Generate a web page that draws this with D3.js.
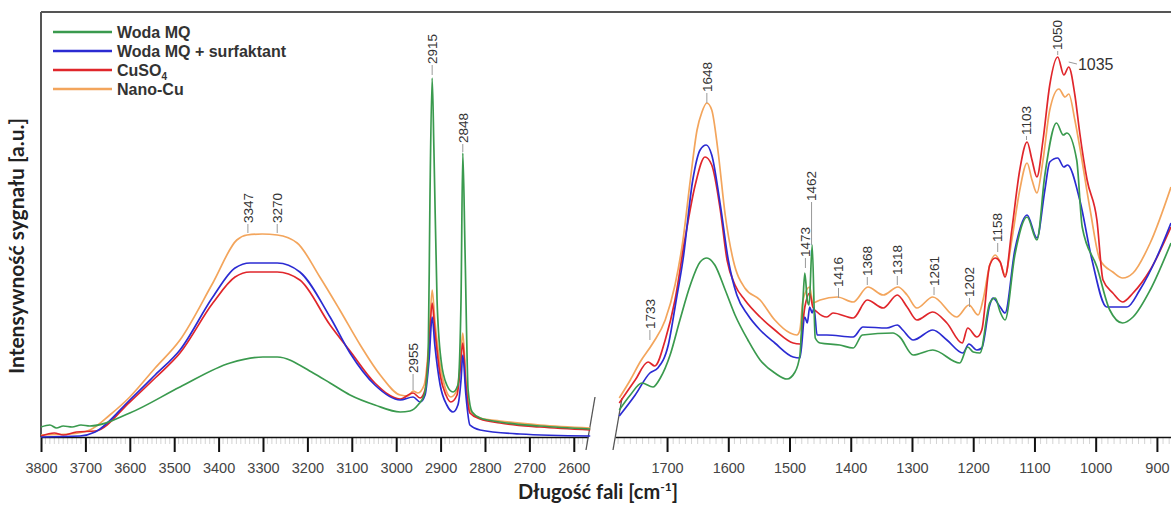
<!DOCTYPE html>
<html><head><meta charset="utf-8">
<script src="https://cdn.jsdelivr.net/npm/d3@7"></script>
<style>body{margin:0;background:#fff}svg{display:block}</style>
</head><body>
<svg id="c" width="1171" height="505"></svg>
<script>
// ---------------- DATA ----------------
const seriesNames = ["Woda MQ", "Woda MQ + surfaktant", "CuSO4", "Nano-Cu"];
const seriesColors = ["#3a9a4e", "#2b2bd2", "#e0262b", "#f3a55c"];

const leftTickValues = [3800, 3700, 3600, 3500, 3400, 3300, 3200, 3100, 3000, 2900, 2800, 2700, 2600];
const rightTickValues = [1700, 1600, 1500, 1400, 1300, 1200, 1100, 1000, 900];

// [wavenumber, intensity a.u.]  high-wavenumber region
const greenHigh = [[3800,1.0],[3780,1.2],[3765,0.9],[3750,1.1],[3730,1.0],[3710,1.2],[3690,1.1],[3600,2.4],[3487,5.0],[3374,7.4],[3300,8.0],[3268,8.0],[3187,6.4],[3149,5.4],[3104,4.2],[3048,3.2],[2991,2.5],[2969,2.6],[2951,3.2],[2937,4.2],[2928,7.7],[2924,23.7],[2919,35.9],[2915,28.7],[2908,13.7],[2899,7.7],[2886,5.2],[2872,4.5],[2861,5.2],[2854,13.7],[2850,28.4],[2845,18.7],[2838,4.7],[2829,2.5],[2811,1.9],[2766,1.5],[2676,1.1],[2563,0.8]];
const blueHigh = [[3800,0.0],[3712,0.1],[3678,0.5],[3600,3.7],[3543,6.2],[3487,8.7],[3413,14.0],[3363,16.9],[3329,17.4],[3268,17.4],[3217,16.5],[3149,12.0],[3104,8.4],[3048,5.2],[2991,3.7],[2962,4.0],[2946,3.5],[2935,4.2],[2926,7.7],[2919,12.0],[2913,9.2],[2901,5.2],[2886,3.2],[2872,2.5],[2861,3.2],[2854,5.7],[2850,8.2],[2843,4.2],[2834,1.2],[2811,0.7],[2721,0.3],[2563,0.1]];
const redHigh = [[3800,0.1],[3770,0.4],[3750,0.2],[3720,0.5],[3678,0.6],[3600,3.5],[3543,5.9],[3487,8.4],[3413,13.4],[3363,16.0],[3329,16.5],[3268,16.5],[3217,15.7],[3149,11.2],[3104,8.6],[3048,5.4],[2991,3.8],[2962,4.4],[2946,3.9],[2935,4.7],[2926,9.2],[2919,13.4],[2913,10.7],[2901,6.2],[2888,4.2],[2877,3.5],[2863,4.2],[2856,6.7],[2850,9.4],[2843,5.2],[2834,2.4],[2811,1.8],[2766,1.4],[2676,1.0],[2563,0.7]];
const orangeHigh = [[3800,0.2],[3735,0.3],[3690,0.7],[3645,2.2],[3600,4.0],[3543,6.9],[3487,9.7],[3413,15.4],[3359,19.7],[3336,20.2],[3302,20.3],[3268,20.2],[3223,19.4],[3172,16.0],[3127,12.7],[3081,9.2],[3036,6.2],[2991,4.2],[2973,4.1],[2962,4.6],[2951,4.4],[2937,5.2],[2926,9.7],[2919,14.7],[2913,11.7],[2901,7.2],[2888,4.7],[2877,4.0],[2863,4.7],[2856,7.2],[2850,10.4],[2843,5.7],[2834,2.7],[2811,1.9],[2766,1.6],[2676,1.2],[2563,0.9]];

// fingerprint region
const greenLow = [[1778,2.7],[1760,4.2],[1741,5.4],[1723,5.0],[1711,5.9],[1695,8.2],[1679,11.7],[1662,15.2],[1646,17.5],[1635,17.9],[1622,17.2],[1605,14.7],[1589,12.2],[1568,9.7],[1548,7.7],[1524,6.4],[1504,5.8],[1491,6.5],[1483,8.2],[1478,13.7],[1475,16.4],[1471,13.7],[1468,13.2],[1463,19.2],[1458,9.9],[1450,9.4],[1418,9.2],[1396,8.9],[1381,10.2],[1331,10.4],[1320,10.0],[1298,8.2],[1266,8.7],[1222,7.4],[1209,9.0],[1200,8.5],[1189,8.4],[1173,13.4],[1164,13.9],[1156,12.5],[1148,11.7],[1132,18.2],[1112,22.0],[1096,19.7],[1083,26.2],[1064,31.4],[1053,30.2],[1047,30.4],[1031,27.7],[1022,21.0],[998,17.0],[977,12.7],[956,11.4],[939,12.0],[911,14.7],[877,19.4]];
const blueLow = [[1778,2.1],[1752,4.2],[1728,6.4],[1715,6.9],[1698,9.2],[1685,13.7],[1674,17.7],[1658,25.7],[1646,28.7],[1636,29.2],[1627,28.2],[1613,23.2],[1600,17.7],[1586,14.2],[1568,12.2],[1548,10.7],[1524,9.4],[1494,8.0],[1483,7.9],[1475,12.0],[1471,11.4],[1467,13.0],[1463,12.4],[1460,12.9],[1455,10.2],[1439,10.2],[1396,10.0],[1380,11.0],[1341,10.9],[1324,11.2],[1315,10.7],[1298,9.7],[1266,10.7],[1243,9.7],[1217,8.4],[1207,9.3],[1194,8.7],[1186,8.9],[1173,13.2],[1168,13.9],[1156,13.0],[1148,12.4],[1132,18.7],[1112,22.2],[1096,19.9],[1083,24.7],[1075,27.5],[1062,27.9],[1052,27.0],[1046,27.2],[1026,23.7],[1006,17.7],[982,13.0],[961,13.0],[949,13.0],[928,14.7],[900,18.0],[877,21.4]];
const redLow = [[1778,3.4],[1752,5.7],[1731,7.5],[1720,7.1],[1703,9.7],[1687,13.7],[1671,19.7],[1654,25.2],[1638,28.0],[1627,27.2],[1613,22.7],[1602,17.7],[1589,15.2],[1573,13.7],[1548,12.0],[1524,10.7],[1494,9.4],[1483,9.3],[1475,13.0],[1467,14.4],[1462,13.0],[1455,12.5],[1439,12.0],[1429,12.4],[1396,11.9],[1373,13.7],[1347,12.9],[1324,14.2],[1308,13.0],[1292,11.7],[1266,12.5],[1243,11.4],[1218,9.4],[1209,10.9],[1194,10.0],[1186,10.7],[1173,17.2],[1164,17.9],[1156,17.5],[1148,16.0],[1137,20.7],[1124,26.7],[1112,29.5],[1104,27.7],[1096,26.0],[1086,29.7],[1075,35.2],[1062,38.0],[1052,36.2],[1044,37.0],[1034,34.2],[1026,30.4],[1014,25.7],[998,21.7],[988,15.7],[972,14.4],[956,13.5],[939,14.4],[911,16.7],[877,21.0]];
const orangeLow = [[1778,3.9],[1760,5.7],[1744,7.5],[1723,9.4],[1703,11.7],[1687,15.2],[1674,19.7],[1662,25.7],[1651,30.7],[1643,32.5],[1635,33.4],[1627,32.7],[1617,28.7],[1605,22.2],[1592,17.7],[1573,14.9],[1548,13.7],[1524,11.7],[1499,10.4],[1488,10.2],[1483,10.7],[1478,13.7],[1467,15.0],[1462,13.4],[1450,13.7],[1422,14.0],[1396,13.5],[1372,15.0],[1347,14.2],[1323,15.0],[1308,14.2],[1292,12.9],[1266,14.0],[1227,12.0],[1207,13.2],[1192,12.2],[1184,13.7],[1173,17.2],[1164,18.2],[1156,17.5],[1148,16.2],[1137,19.7],[1124,24.7],[1112,27.4],[1104,25.7],[1096,24.4],[1086,27.7],[1075,32.7],[1060,34.8],[1050,34.0],[1044,34.3],[1034,31.7],[1026,29.0],[1009,22.7],[993,17.7],[972,16.5],[956,15.9],[939,16.4],[911,19.4],[877,25.0]];

const seriesHigh = [greenHigh, blueHigh, redHigh, orangeHigh];
const seriesLow = [greenLow, blueLow, redLow, orangeLow];

// peak annotations: wn = position, tip = leader end (intensity), base = text start (intensity)
const peakLabels = [
  {text:"3347", panel:"high", wn:3334, tip:20.4, base:21.4},
  {text:"3270", panel:"high", wn:3268, tip:20.4, base:21.4},
  {text:"2955", panel:"high", wn:2962, tip:4.7, base:6.4},
  {text:"2915", panel:"high", wn:2919, tip:36.2, base:37.3},
  {text:"2848", panel:"high", wn:2850, tip:28.5, base:29.4},
  {text:"1733", panel:"low", wn:1728, tip:9.7, base:10.8},
  {text:"1648", panel:"low", wn:1635, tip:33.4, base:34.5},
  {text:"1473", panel:"low", wn:1474, tip:16.9, base:18.0},
  {text:"1462", panel:"low", wn:1464, tip:19.2, base:23.6},
  {text:"1416", panel:"low", wn:1420, tip:13.9, base:15.0},
  {text:"1368", panel:"low", wn:1373, tip:15.2, base:16.1},
  {text:"1318", panel:"low", wn:1324, tip:15.2, base:16.2},
  {text:"1261", panel:"low", wn:1264, tip:14.2, base:15.1},
  {text:"1202", panel:"low", wn:1206, tip:13.0, base:14.0},
  {text:"1158", panel:"low", wn:1160, tip:18.5, base:19.5},
  {text:"1103", panel:"low", wn:1113, tip:29.7, base:30.2},
  {text:"1050", panel:"low", wn:1062, tip:38.2, base:38.7}
];
const sideLabel = {text:"1035", wnPeak:1044, wnText:1029, val:37.3};

// ---------------- CHART ----------------
const svg = d3.select("#c");
const W = 1171, topY = 12, bottomY = 437, leftX = 41;

const y = d3.scaleLinear().domain([0, 42.5]).range([bottomY, topY]);
const xHigh = d3.scaleLinear().domain([3800, 2568]).range([leftX, 588]);
const xLow = d3.scaleLinear().domain([1785, 877]).range([615, W]);

// frame: left and top border
svg.append("line").attr("x1", leftX).attr("x2", leftX).attr("y1", topY).attr("y2", bottomY)
  .attr("stroke", "#555").attr("stroke-width", 2);
svg.append("line").attr("x1", leftX).attr("x2", W).attr("y1", topY).attr("y2", topY)
  .attr("stroke", "#555").attr("stroke-width", 2);

// minor ticks
function minor(scale, from, to) {
  const vals = [];
  for (let v = from; v >= to; v -= 10) if (v % 100 !== 0) vals.push(v);
  svg.append("g").selectAll("line").data(vals).join("line")
    .attr("x1", d => scale(d)).attr("x2", d => scale(d))
    .attr("y1", bottomY + 1).attr("y2", bottomY + 7)
    .attr("stroke", "#d4d4d4").attr("stroke-width", 1);
}
minor(xHigh, 3790, 2570);
minor(xLow, 1780, 880);

function drawAxis(scale, ticks) {
  const g = svg.append("g").attr("transform", `translate(0,${bottomY})`)
    .call(d3.axisBottom(scale).tickValues(ticks).tickSize(15).tickSizeOuter(0).tickPadding(11).tickFormat(d3.format("d")));
  g.select(".domain").attr("stroke", "#111").attr("stroke-width", 1.6);
  g.selectAll(".tick line").attr("stroke", "#111").attr("stroke-width", 2);
  g.selectAll(".tick text").attr("font-family", "Liberation Sans, Arial, sans-serif")
    .attr("font-size", 14.5).attr("fill", "#444");
}
drawAxis(xHigh, leftTickValues);
drawAxis(xLow, rightTickValues);

// axis break marks
[[586, 450, 595, 397], [613, 450, 622, 398]].forEach(s => {
  svg.append("line").attr("x1", s[0]).attr("y1", s[1]).attr("x2", s[2]).attr("y2", s[3])
    .attr("stroke", "#555").attr("stroke-width", 1.3);
});

// curves
const drawOrder = [3, 2, 1, 0];
drawOrder.forEach(i => {
  const lineH = d3.line().x(d => xHigh(d[0])).y(d => y(d[1])).curve(d3.curveMonotoneX);
  const lineL = d3.line().x(d => xLow(d[0])).y(d => y(d[1])).curve(d3.curveMonotoneX);
  svg.append("path").attr("d", lineH(seriesHigh[i])).attr("fill", "none")
    .attr("stroke", seriesColors[i]).attr("stroke-width", 1.7).attr("stroke-linejoin", "round");
  svg.append("path").attr("d", lineL(seriesLow[i])).attr("fill", "none")
    .attr("stroke", seriesColors[i]).attr("stroke-width", 1.7).attr("stroke-linejoin", "round");
});

// peak labels
peakLabels.forEach(p => {
  const sx = p.panel === "high" ? xHigh : xLow;
  const px = sx(p.wn);
  svg.append("line").attr("x1", px).attr("x2", px).attr("y1", y(p.tip)).attr("y2", y(p.base) + 1)
    .attr("stroke", "#999").attr("stroke-width", 1);
  svg.append("text").attr("transform", `translate(${px},${y(p.base)}) rotate(-90)`)
    .attr("dy", "0.35em").attr("text-anchor", "start")
    .attr("font-family", "Liberation Sans, Arial, sans-serif").attr("font-size", 13.5)
    .attr("fill", "#333").text(p.text);
});
svg.append("line").attr("x1", xLow(sideLabel.wnPeak)).attr("x2", xLow(sideLabel.wnText) - 1)
  .attr("y1", y(sideLabel.val) - 2).attr("y2", y(sideLabel.val)).attr("stroke", "#999");
svg.append("text").attr("x", xLow(sideLabel.wnText)).attr("y", y(sideLabel.val)).attr("dy", "0.35em")
  .attr("font-family", "Liberation Sans, Arial, sans-serif").attr("font-size", 16)
  .attr("fill", "#333").text(sideLabel.text);

// legend
const legend = svg.append("g");
seriesNames.forEach((name, i) => {
  const ly = 32 + i * 19;
  legend.append("line").attr("x1", 53).attr("x2", 112).attr("y1", ly).attr("y2", ly)
    .attr("stroke", seriesColors[i]).attr("stroke-width", 2.5);
  const t = legend.append("text").attr("x", 117).attr("y", ly).attr("dy", "0.36em")
    .attr("font-family", "Liberation Sans, Arial, sans-serif").attr("font-size", 16)
    .attr("font-weight", "bold").attr("fill", "#333");
  if (name === "CuSO4") {
    t.append("tspan").text("CuSO");
    t.append("tspan").attr("font-size", 10).attr("dy", 4).text("4");
  } else t.text(name);
});

// axis titles
const xt = svg.append("text").attr("x", 598).attr("y", 499).attr("text-anchor", "middle")
  .attr("font-family", "Lato, sans-serif").attr("font-weight", "bold").attr("font-size", 20).attr("fill", "#222");
xt.append("tspan").text("Długość fali [cm");
xt.append("tspan").attr("font-size", 12).attr("dy", -8).text("-1");
xt.append("tspan").attr("dy", 8).text("]");

svg.append("text").attr("transform", `translate(17,246) rotate(-90)`).attr("text-anchor", "middle")
  .attr("dy", "0.35em").attr("font-family", "Lato, sans-serif").attr("font-weight", "bold")
  .attr("font-size", 21).attr("fill", "#222").text("Intensywność sygnału [a.u.]");
</script>
</body></html>
